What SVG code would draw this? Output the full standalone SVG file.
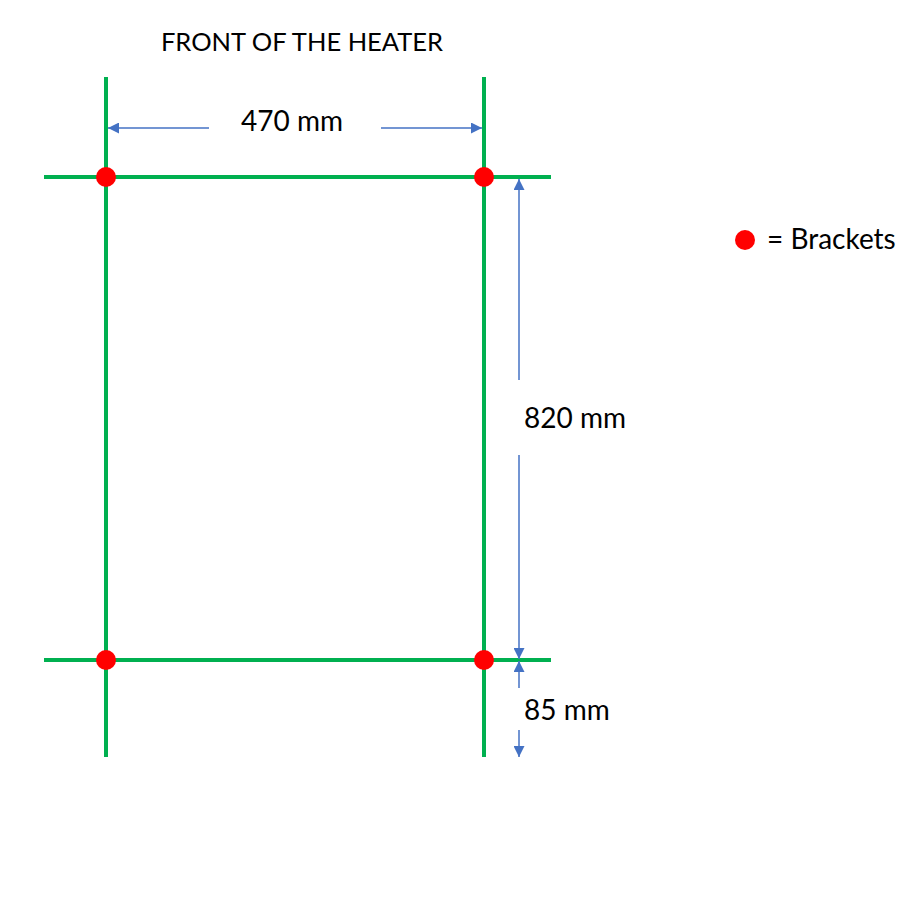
<svg xmlns="http://www.w3.org/2000/svg" width="900" height="900" viewBox="0 0 900 900">
<style>
.g{stroke:#00B050;stroke-width:4;fill:none}
.dim{stroke:#4472C4;stroke-width:1.5;fill:none;marker-end:url(#ah)}
.dot{fill:#FF0000}
.t{font-family:Lato,"Open Sans",sans-serif;fill:#000}
</style>
<defs>
<marker id="ah" viewBox="0 0 10 10" refX="10" refY="5" markerWidth="12" markerHeight="11" markerUnits="userSpaceOnUse" orient="auto"><path d="M0,0 L10,5 L0,10 z" fill="#4472C4"/></marker>
</defs>
<rect width="900" height="900" fill="#fff"/>
<text class="t" x="302" y="51" font-size="25.5" text-anchor="middle">FRONT OF THE HEATER</text>
<g id="frame">
<line class="g" x1="106" y1="77" x2="106" y2="757"/>
<line class="g" x1="484" y1="77" x2="484" y2="757"/>
<line class="g" x1="44" y1="177" x2="551" y2="177"/>
<line class="g" x1="44" y1="660" x2="551" y2="660"/>
</g>
<g id="brackets">
<circle class="dot" cx="106" cy="177" r="10"/>
<circle class="dot" cx="484" cy="177" r="10"/>
<circle class="dot" cx="106" cy="660" r="10"/>
<circle class="dot" cx="484" cy="660" r="10"/>
</g>
<g id="connectors">
<line class="dim" x1="209" y1="128" x2="108" y2="128"/>
<line class="dim" x1="381" y1="128" x2="482" y2="128"/>
<line class="dim" x1="519" y1="380" x2="519" y2="179"/>
<line class="dim" x1="519" y1="455" x2="519" y2="659"/>
<line class="dim" x1="519" y1="688" x2="519" y2="661"/>
<line class="dim" x1="519" y1="730" x2="519" y2="757"/>
</g>
<g id="labels">
<text class="t" x="292" y="131" font-size="28" text-anchor="middle">470 mm</text>
<text class="t" x="524" y="428" font-size="28">820 mm</text>
<text class="t" x="524" y="720" font-size="28">85 mm</text>
</g>
<g id="legend">
<circle class="dot" cx="745" cy="240" r="10"/>
<text class="t" x="767" y="249" font-size="28">= Brackets</text>
</g>
</svg>
